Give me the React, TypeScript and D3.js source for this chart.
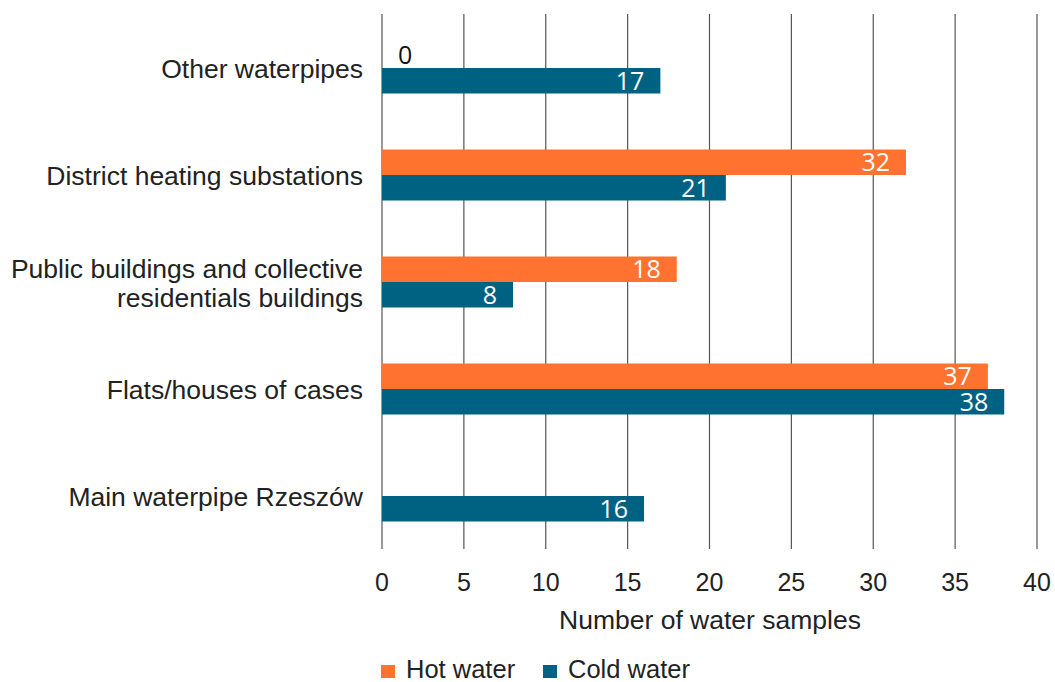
import React from "react";
import * as d3 from "d3";

const categories = [
  "Other waterpipes",
  "District heating substations",
  "Public buildings and collective residentials buildings",
  "Flats/houses of cases",
  "Main waterpipe Rzeszów",
];
const categoryLines = [
  ["Other waterpipes"],
  ["District heating substations"],
  ["Public buildings and collective", "residentials buildings"],
  ["Flats/houses of cases"],
  ["Main waterpipe Rzeszów"],
];
const hotWater: (number | null)[] = [0, 32, 18, 37, null];
const coldWater: number[] = [17, 21, 8, 38, 16];
const xTicks = [0, 5, 10, 15, 20, 25, 30, 35, 40];
const seriesNames = ["Hot water", "Cold water"];
const colors = ["#FF7230", "#006283"];

export default function App() {
  const W = 1055, H = 682;
  const x = d3.scaleLinear().domain([0, 40]).range([382, 1037]);
  const y = d3.scaleBand().domain(categories).range([14.5, 549.5]);
  const barH = 25.5;
  const font = "'Liberation Sans', Arial, sans-serif";
  const valFont = "'Open Sans', sans-serif";

  return (
    <svg width={W} height={H} style={{ position: "absolute", left: 0, top: 0, background: "#fff" }}>
      {xTicks.map((t) => (
        <g key={t}>
          <line x1={x(t)} x2={x(t)} y1={14} y2={549} stroke="#555" strokeWidth={1.2} />
          <text x={x(t)} y={590.5} textAnchor="middle" fontFamily={font} fontSize={25} fill="#222">{t}</text>
        </g>
      ))}
      {categories.map((c, i) => {
        const cy = (y(c) as number) + y.bandwidth() / 2;
        const lines = categoryLines[i];
        const h = hotWater[i];
        const cv = coldWater[i];
        return (
          <g key={c}>
            {lines.map((l, j) => (
              <text key={j} x={363} y={cy + 10 + (j - (lines.length - 1) / 2) * 29} textAnchor="end" fontFamily={font} fontSize={26.5} fill="#222">{l}</text>
            ))}
            {h !== null && h > 0 && (
              <>
                <rect x={x(0)} y={cy - barH} width={x(h) - x(0)} height={barH} fill={colors[0]} />
                <text x={x(h) - 16} y={cy - barH / 2 + 9} textAnchor="end" fontFamily={valFont} fontSize={25} fill="#fff">{h}</text>
              </>
            )}
            {h === 0 && (
              <text x={x(0) + 16} y={cy - 4} textAnchor="start" fontFamily={valFont} fontSize={25} fill="#111">{h}</text>
            )}
            <rect x={x(0)} y={cy} width={x(cv) - x(0)} height={barH} fill={colors[1]} />
            <text x={x(cv) - 16} y={cy + barH / 2 + 9} textAnchor="end" fontFamily={valFont} fontSize={25} fill="#fff">{cv}</text>
          </g>
        );
      })}
      <text x={710} y={629} textAnchor="middle" fontFamily={font} fontSize={26.5} fill="#222">Number of water samples</text>
      {seriesNames.map((s, i) => {
        const lx = i === 0 ? 381 : 543;
        return (
          <g key={s}>
            <rect x={lx} y={665} width={14} height={13} fill={colors[i]} />
            <text x={lx + 25} y={678} fontFamily={font} fontSize={25.5} fill="#222">{s}</text>
          </g>
        );
      })}
    </svg>
  );
}
